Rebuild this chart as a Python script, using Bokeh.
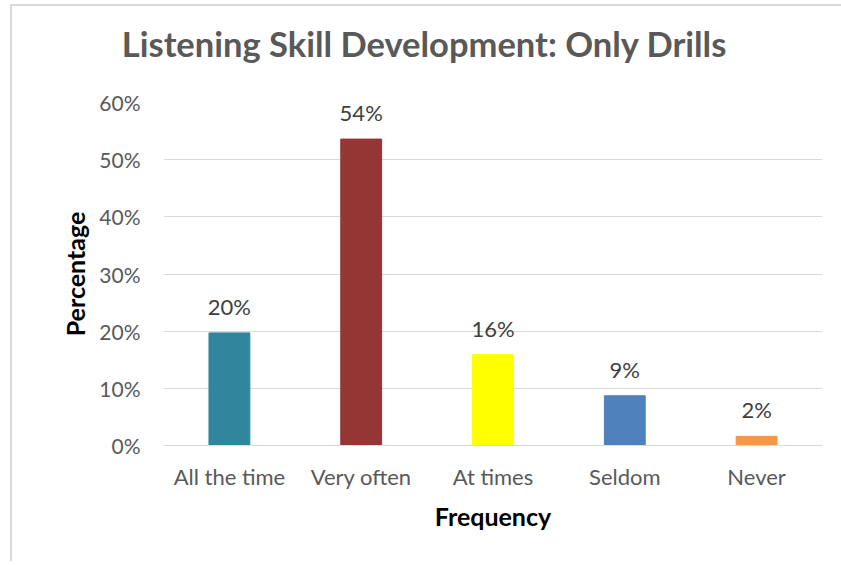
from bokeh.plotting import figure
from bokeh.layouts import column
from bokeh.models import ColumnDataSource, LabelSet, Label, NumeralTickFormatter, FixedTicker, Range1d
from bokeh.core.properties import value
from bokeh.embed import file_html
from bokeh.resources import INLINE

categories = ["All the time", "Very often", "At times", "Seldom", "Never"]
values = [0.197, 0.536, 0.159, 0.087, 0.016]
colors = ["#31859C", "#943634", "#FFFF00", "#4F81BD", "#F79646"]
y_ticks = [0.0, 0.1, 0.2, 0.3, 0.4, 0.5, 0.6]
title_text = "Listening Skill Development: Only Drills"
x_title = "Frequency"
y_title = "Percentage"

labels = [f"{round(v * 100):d}%" for v in values]
src = ColumnDataSource(dict(cat=categories, val=values, color=colors, lab=labels))

FONT = "Lato"
W = 829
TH = 72

# title strip
t = figure(width=W, height=TH, x_range=Range1d(0, W), y_range=Range1d(0, TH),
           x_axis_type=None, y_axis_type=None, output_backend="svg", toolbar_location=None,
           min_border=0)
t.frame_align = False
t.outline_line_color = None
t.xgrid.grid_line_color = None
t.ygrid.grid_line_color = None
t.border_fill_color = "white"
t.add_layout(Label(x=412, y=35, text=title_text, text_align="center", text_baseline="alphabetic",
                   text_font=FONT, text_font_style="bold", text_font_size="34.5px",
                   text_color="#595959"))

p = figure(x_range=categories, y_range=Range1d(0, 0.6), width=W, height=555 - TH,
           output_backend="svg", toolbar_location=None,
           min_border_left=151, min_border_right=19, min_border_top=96 - TH, min_border_bottom=116)
p.frame_align = False
p.outline_line_color = None
p.background_fill_color = "white"
p.border_fill_color = "white"

p.vbar(x="cat", top="val", width=0.31, color="color", source=src)

p.add_layout(LabelSet(x="cat", y="val", text="lab", source=src, text_align="center",
                      text_baseline="alphabetic", y_offset=18, text_font=value(FONT),
                      text_font_size="22px", text_color="#404040"))

p.yaxis.ticker = FixedTicker(ticks=y_ticks)
p.yaxis.formatter = NumeralTickFormatter(format="0%")
p.yaxis.axis_line_color = None
p.yaxis.major_tick_line_color = None
p.yaxis.minor_tick_line_color = None
p.yaxis.major_label_text_font = FONT
p.yaxis.major_label_text_font_size = "21px"
p.yaxis.major_label_text_color = "#595959"
p.yaxis.major_label_standoff = 17
p.yaxis.axis_label = y_title
p.yaxis.axis_label_text_font = FONT
p.yaxis.axis_label_text_font_style = "bold"
p.yaxis.axis_label_text_font_size = "25px"
p.yaxis.axis_label_text_color = "black"
p.yaxis.axis_label_standoff = 6

p.xaxis.axis_line_color = "#D9D9D9"
p.xaxis.major_tick_line_color = None
p.xaxis.minor_tick_line_color = None
p.xaxis.major_label_text_font = FONT
p.xaxis.major_label_text_font_size = "22px"
p.xaxis.major_label_text_color = "#595959"
p.xaxis.major_label_standoff = 11
p.xaxis.axis_label = x_title
p.xaxis.axis_label_text_font = FONT
p.xaxis.axis_label_text_font_style = "bold"
p.xaxis.axis_label_text_font_size = "25px"
p.xaxis.axis_label_text_color = "black"
p.xaxis.axis_label_standoff = 8

p.xgrid.grid_line_color = None
p.ygrid.grid_line_color = "#D9D9D9"
p.ygrid.grid_line_width = 1

layout = column(t, p, spacing=0)
layout.margin = (4, 0, 0, 10)
layout.styles = {"border-top": "2px solid #D9D9D9", "border-left": "2px solid #D9D9D9"}

open("out.html", "w").write(file_html(layout, INLINE))
